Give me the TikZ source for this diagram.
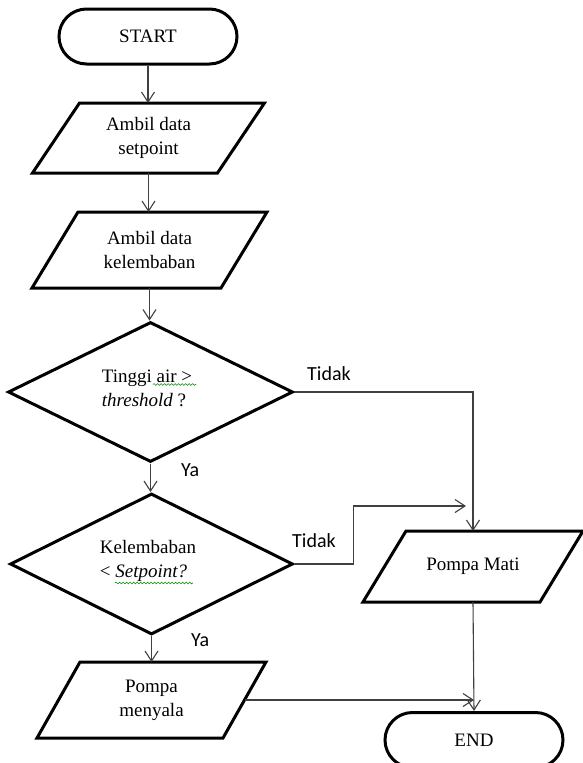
\documentclass[tikz,border=0pt]{standalone}
\usepackage{fontspec}
\setmainfont{Liberation Serif}
\newfontfamily\labelfont{Carlito}
\usetikzlibrary{shapes.geometric,shapes.misc,arrows.meta,decorations.pathmorphing,calc}

% parallelogram drawn round a rectangular text box: #1 node name, #2 slant
\newcommand\paraoutline[2]{%
  \draw[outline] ($(#1.north west)+({#2/2},0)$) -- ($(#1.north east)+({#2/2},0)$)
    -- ($(#1.south east)-({#2/2},0)$) -- ($(#1.south west)-({#2/2},0)$) -- cycle;}

\begin{document}
\begin{tikzpicture}[x=1pt,y=-1pt,
  outline/.style={line width=3pt, draw=black, line join=miter},
  boxfont/.style={font=\fontsize{19}{24}\selectfont},
  term/.style={rounded rectangle, outline, boxfont, minimum width=178pt,
    minimum height=55pt, inner sep=0pt},
  iobox/.style={boxfont, align=center, inner sep=0pt, outer sep=0pt},
  decision/.style={diamond, outline, inner sep=0pt},
  qtext/.style={boxfont, align=left, inner sep=0pt},
  tag/.style={font=\labelfont\fontsize{20}{24}\selectfont, anchor=base west, inner sep=0pt},
  conn/.style={draw=black!75, line width=1.1pt},
  arr/.style={conn, -{Straight Barb[length=10pt,width=13pt]}},
  squig/.style={draw=green!55!black, line width=0.6pt,
    decorate, decoration={snake, amplitude=0.9pt, segment length=3.5pt}}
]
\clip (0,0) rectangle (583,763);

% terminals
\node[term] (start) at (148,36.5) {START};
\node[term] (end) at (474,740) {END};

% input / output boxes
\node[iobox, minimum width=185pt, minimum height=70pt] (in1) at (148.5,138)
  {Ambil data\\setpoint};
\paraoutline{in1}{47}
\node[iobox, minimum width=189pt, minimum height=76pt] (in2) at (149.5,250)
  {Ambil data\\kelembaban};
\paraoutline{in2}{46}
\node[iobox, minimum width=186pt, minimum height=76pt] (on) at (151.5,700)
  {Pompa\\menyala};
\paraoutline{on}{43}
\node[iobox, minimum width=177pt, minimum height=71pt] (off) at (473,566.5)
  {Pompa Mati};
\paraoutline{off}{43}

% decisions
\node[decision, minimum width=285pt, minimum height=140pt] (q1) at (150.5,392) {};
\node[qtext] (q1t) at (147,388) {Tinggi air >\\\textit{threshold} ?};
\node[decision, minimum width=283pt, minimum height=141pt] (q2) at (151.5,564) {};
\node[qtext] (q2t) at (148,561) {Kelembaban\\< \textit{Setpoint?}};

% spelling marks under words
\draw[squig] (153,384.5) -- (196,384.5);
\draw[squig] (115,583) -- (193,583);

% branch labels
\node[tag] (t1) at (307,380) {Tidak};
\node[tag] (t2) at (292,547) {Tidak};
\node[tag] (y1) at (181,476) {Ya};
\node[tag] (y2) at (191,646) {Ya};

% connectors
\coordinate (jn) at (466,506);
\draw[arr] (start.south) -- (start.south |- in1.north);
\draw[arr] (in1.south) -- (in1.south |- in2.north);
\draw[arr] (in2.south) -- (in2.south |- q1.north);
\draw[arr] (q1.south) -- (q1.south |- q2.north);
\draw[arr] (q2.south) -- (q2.south |- on.north);
\draw[arr] (q1.east) -| (off.north);
\draw[arr] (q2.east) -- ++(59,0) |- (jn);
\draw[arr] (off.south) -- (end.north);
\draw[arr] (on.east) -- (on.east -| end.north);
\end{tikzpicture}
\end{document}
